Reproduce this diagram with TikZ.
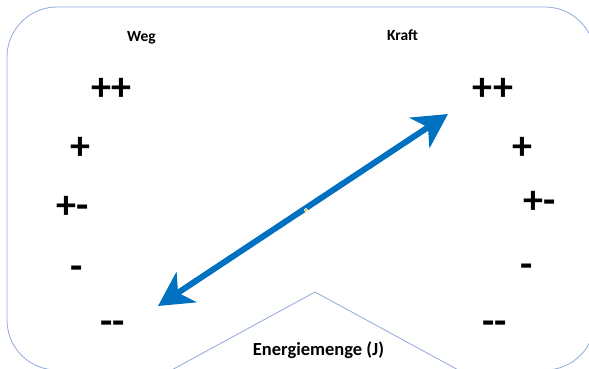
\documentclass[tikz,border=0pt]{standalone}
\usepackage{fontspec}
\setmainfont{Carlito}
\usetikzlibrary{arrows.meta}
\definecolor{framecol}{HTML}{8FA9D9}
\definecolor{arrowblue}{HTML}{0070C0}
\definecolor{dotyellow}{HTML}{F2B705}
\begin{document}
\begin{tikzpicture}[x=1pt, y=-1pt,
  title/.style={font=\fontsize{15.5}{18}\selectfont\bfseries, anchor=base, inner sep=0pt},
  bigtitle/.style={font=\fontsize{18.5}{22}\selectfont\bfseries, anchor=base, inner sep=0pt},
  level/.style={font=\fontsize{40}{44}\selectfont\bfseries, anchor=base, inner sep=0pt},
  outline/.style={draw=framecol, line width=0.8pt}]
  \useasboundingbox (0,0) rectangle (589,368);
  % outer rounded frame, its right and bottom sides run just past the edge
  \draw[outline, rounded corners=50pt] (7,7) rectangle (595,370);
  % roof-shaped outline for the energy label
  \coordinate (roofL) at (168,372);
  \coordinate (roofT) at (315,292);
  \coordinate (roofR) at (462,372);
  \draw[outline] (roofL) -- (roofT) -- (roofR);
  % column titles
  \node[title] (weg) at (141.5,41.5) {Weg};
  \node[title] (kraft) at (402.5,40.5) {Kraft};
  \node[bigtitle] (energie) at (318.5,355) {Energiemenge (J)};
  % left scale
  \node[level] (w1) at (111.5,100) {++};
  \node[level] (w2) at (80.5,159) {+};
  \node[level] (w3) at (72.5,218.5) {+-};
  \node[level] (w4) at (77,279) {-};
  \node[level] (w5) at (112.5,334) {-{}-};
  % right scale
  \node[level] (k1) at (493,100) {++};
  \node[level] (k2) at (522,159.5) {+};
  \node[level] (k3) at (539.5,213) {+-};
  \node[level] (k4) at (526.5,277) {-};
  \node[level] (k5) at (494.5,334) {-{}-};
  % double arrow
  \coordinate (lo) at (158,306);
  \coordinate (hi) at (448,114);
  \draw[arrowblue, line width=6pt,
        {Stealth[length=34pt, width=36pt, inset=10pt]}-{Stealth[length=34pt, width=36pt, inset=10pt]}]
        (lo) -- (hi);
  \node[circle, fill=dotyellow, draw=white, line width=0.5pt, inner sep=0pt, minimum size=3.5pt] (mid) at (306,210) {};
\end{tikzpicture}
\end{document}
